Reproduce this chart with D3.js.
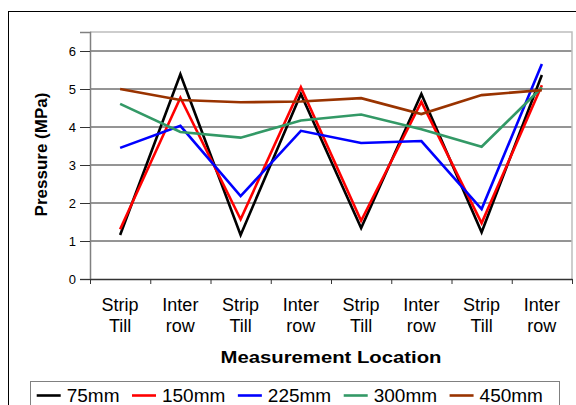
<!DOCTYPE html>
<html>
<head>
<meta charset="utf-8">
<script src="https://cdn.jsdelivr.net/npm/d3@7"></script>
<style>
  body { margin: 0; background: #fff; }
  svg { display: block; font-family: "Liberation Sans", Arial, sans-serif; }
</style>
</head>
<body>
<svg id="chart" width="576" height="405"></svg>
<script>
// categories along the x axis (two lines each)
var categories = ["Strip Till", "Inter row", "Strip Till", "Inter row",
                  "Strip Till", "Inter row", "Strip Till", "Inter row"];

var seriesNames = ["75mm", "150mm", "225mm", "300mm", "450mm"];
var seriesColors = ["#000000", "#ff0000", "#0000ff", "#339966", "#993300"];

// pressure values (MPa)
var p75  = [1.16, 5.39, 1.16, 4.87, 1.34, 4.87, 1.23, 5.37];
var p150 = [1.31, 4.77, 1.57, 5.05, 1.53, 4.66, 1.47, 5.10];
var p225 = [3.45, 4.03, 2.18, 3.90, 3.58, 3.63, 1.84, 5.66];
var p300 = [4.61, 3.87, 3.72, 4.17, 4.33, 3.94, 3.48, 5.04];
var p450 = [5.00, 4.71, 4.65, 4.67, 4.76, 4.34, 4.84, 4.97];

var yTicks = [0, 1, 2, 3, 4, 5, 6];

var allSeries = [p75, p150, p225, p300, p450];

var plot = {left: 90, top: 32, right: 572, bottom: 279};

var svg = d3.select("#chart");

// outer chart border
svg.append("rect")
    .attr("x", 8.5).attr("y", 11.5)
    .attr("width", 600).attr("height", 430)
    .attr("fill", "none")
    .attr("stroke", "#000")
    .attr("stroke-width", 1);

var xBand = d3.scaleBand()
    .domain(d3.range(categories.length))
    .range([plot.left, plot.right]);

var xEdge = d3.scaleLinear()
    .domain([0, categories.length])
    .range([plot.left, plot.right]);

var yScale = d3.scaleLinear()
    .domain([0, 6.5])
    .range([plot.bottom, plot.top]);

var xCenter = function(i) { return xBand(i) + xBand.bandwidth() / 2; };

// gridlines
svg.append("g")
    .selectAll("line")
    .data(yTicks.slice(1))
    .enter()
    .append("line")
    .attr("x1", plot.left).attr("x2", plot.right)
    .attr("y1", function(d) { return yScale(d); })
    .attr("y2", function(d) { return yScale(d); })
    .attr("stroke", "#2a2a2a")
    .attr("stroke-width", 1);

// light plot border (top + right)
svg.append("path")
    .attr("d", "M" + plot.left + "," + plot.top + "H" + plot.right + "V" + plot.bottom)
    .attr("fill", "none")
    .attr("stroke", "#bdbdbd")
    .attr("stroke-width", 1.5);

// y axis
var yAxis = d3.axisLeft(yScale)
    .tickValues(yTicks)
    .tickSize(10)
    .tickPadding(4)
    .tickFormat(d3.format("d"));

var gy = svg.append("g")
    .attr("transform", "translate(" + plot.left + ",0)")
    .call(yAxis);
gy.select(".domain").attr("stroke", "#808080").attr("stroke-width", 1.5);
gy.selectAll(".tick line").attr("stroke", "#333");
gy.selectAll(".tick text")
    .attr("font-size", 13)
    .attr("fill", "#000")
    .attr("font-family", "Liberation Sans, Arial, sans-serif");

// x axis: ticks on category edges
var xAxis = d3.axisBottom(xEdge)
    .tickValues(d3.range(categories.length + 1))
    .tickSize(5)
    .tickSizeOuter(0)
    .tickFormat("");

var gx = svg.append("g")
    .attr("transform", "translate(0," + plot.bottom + ")")
    .call(xAxis);
gx.select(".domain").attr("stroke", "#333").attr("stroke-width", 1.5);
gx.selectAll(".tick line").attr("stroke", "#333");

// category labels
var catLabels = svg.append("g")
    .selectAll("text")
    .data(categories)
    .enter()
    .append("text")
    .attr("text-anchor", "middle")
    .attr("font-size", 18)
    .attr("fill", "#000")
    .attr("x", function(d, i) { return xCenter(i); })
    .attr("y", plot.bottom + 32);

catLabels.each(function(d, i) {
    var parts = d.split(" ");
    var t = d3.select(this);
    parts.forEach(function(p, k) {
        t.append("tspan")
            .attr("x", xCenter(i))
            .attr("dy", k === 0 ? 0 : 20.5)
            .text(p);
    });
});

// axis titles (x title is stretched wide like the original)
var xTitleG = svg.append("g");
var xTitle = xTitleG.append("text")
    .text("Measurement Location")
    .attr("text-anchor", "middle")
    .attr("font-weight", "bold")
    .attr("font-size", 16)
    .attr("x", 0)
    .attr("y", 0);
var stretch = 221 / xTitle.node().getComputedTextLength();
xTitleG.attr("transform", "translate(" + ((plot.left + plot.right) / 2) + ",363) scale(" + stretch + ",1)");

svg.append("g")
    .attr("transform", "translate(46.5," + ((plot.top + plot.bottom) / 2 - 1) + ")")
    .append("text")
    .text("Pressure (MPa)")
    .attr("text-anchor", "middle")
    .attr("font-weight", "bold")
    .attr("font-size", 17)
    .attr("transform", "rotate(-90)");

// series lines
var line = d3.line()
    .x(function(d, i) { return xCenter(i); })
    .y(function(d) { return yScale(d); });

svg.append("g")
    .selectAll("path")
    .data(allSeries)
    .enter()
    .append("path")
    .attr("d", line)
    .attr("fill", "none")
    .attr("stroke", function(d, i) { return seriesColors[i]; })
    .attr("stroke-width", 2.6)
    .attr("stroke-linejoin", "miter");

// legend
var legend = svg.append("g");
legend.append("rect")
    .attr("x", 30.5).attr("y", 381.5)
    .attr("width", 529).attr("height", 40)
    .attr("fill", "#fff")
    .attr("stroke", "#808080")
    .attr("stroke-width", 1);

var lx = 36.7;
seriesNames.forEach(function(name, i) {
    var item = legend.append("g");
    item.append("line")
        .attr("x1", lx).attr("x2", lx + 24)
        .attr("y1", 395.5).attr("y2", 395.5)
        .attr("stroke", seriesColors[i])
        .attr("stroke-width", 2.6);
    var t = item.append("text")
        .text(name)
        .attr("x", lx + 30)
        .attr("y", 402)
        .attr("font-size", 19)
        .attr("fill", "#000");
    lx += 30 + t.node().getComputedTextLength() + 12.5;
});
</script>
</body>
</html>
